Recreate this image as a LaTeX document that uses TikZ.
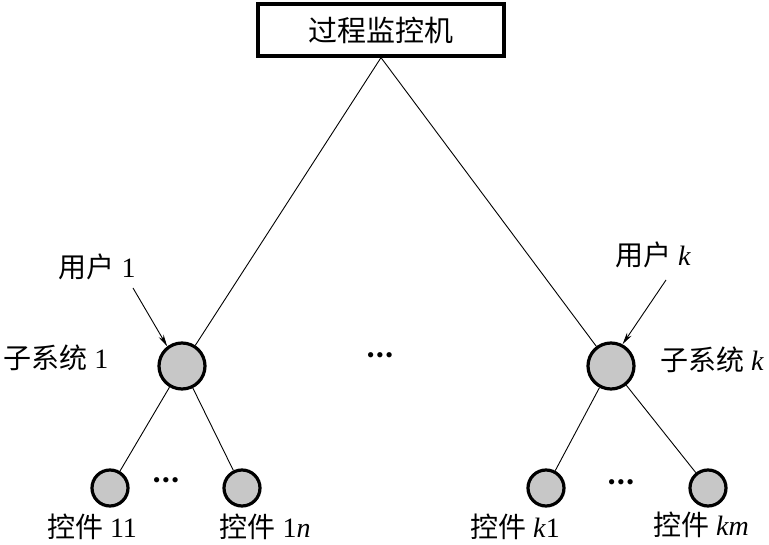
\documentclass[tikz,border=0pt]{standalone}
\usepackage{fontspec}
\setmainfont{Liberation Serif}
\newfontfamily\cjk{Noto Sans CJK SC}
\usetikzlibrary{arrows.meta}
\newcommand{\mydots}{•\kern1.5pt•\kern1.5pt•}
\begin{document}
\begin{tikzpicture}[x=1pt,y=-1pt,
  lbl/.style={font=\fontsize{28}{30}\selectfont, inner sep=0pt},
  sub/.style={circle, draw, line width=3.2pt, fill=black!22, minimum size=46pt, inner sep=0pt},
  leaf/.style={circle, draw, line width=3.2pt, fill=black!22, minimum size=36pt, inner sep=0pt},
  conn/.style={line width=0.9pt},
  usr/.style={line width=0.9pt, -{Stealth[length=12pt,width=5.5pt]}},
  dots/.style={font=\fontsize{22}{22}\selectfont, inner sep=0pt}]
\useasboundingbox (0,0) rectangle (769,545);
\node[draw, line width=3.2pt, minimum width=246pt, minimum height=52pt, inner sep=0pt, font=\fontsize{29}{32}\selectfont\cjk] (top) at (381,30) {过程监控机};
\node[sub] (s1) at (182,366) {};
\node[sub] (sk) at (611,366) {};
\node[leaf] (l11) at (110,488) {};
\node[leaf] (l1n) at (242,488) {};
\node[leaf] (lk1) at (546,488) {};
\node[leaf] (lkm) at (708,488) {};
\draw[conn] (top.south) -- (s1);
\draw[conn] (top.south) -- (sk);
\draw[conn] (s1) -- (l11);
\draw[conn] (s1) -- (l1n);
\draw[conn] (sk) -- (lk1);
\draw[conn] (sk) -- (lkm);
\node[dots] (d0) at (380,358) {\mydots};
\node[dots] (d1) at (166,483) {\mydots};
\node[dots] (d2) at (621,485) {\mydots};
\node[lbl] (u1) at (97,267) {{\cjk 用户} 1};
\node[lbl] (uk) at (653,255) {{\cjk 用户} \textit{k}};
\coordinate (u1a) at (133,288);
\coordinate (uka) at (666,280);
\draw[usr] (u1a) -- (s1.127);
\draw[usr] (uka) -- (sk.62);
\node[lbl] (t1) at (56,358) {{\cjk 子系统} 1};
\node[lbl] (tk) at (712,360) {{\cjk 子系统} \textit{k}};
\node[lbl] (c11) at (92,527) {{\cjk 控件} 11};
\node[lbl] (c1n) at (265,527) {{\cjk 控件} 1\textit{n}};
\node[lbl] (ck1) at (515,527) {{\cjk 控件} \textit{k}1};
\node[lbl] (ckm) at (701,525) {{\cjk 控件} \textit{km}};
\end{tikzpicture}
\end{document}
